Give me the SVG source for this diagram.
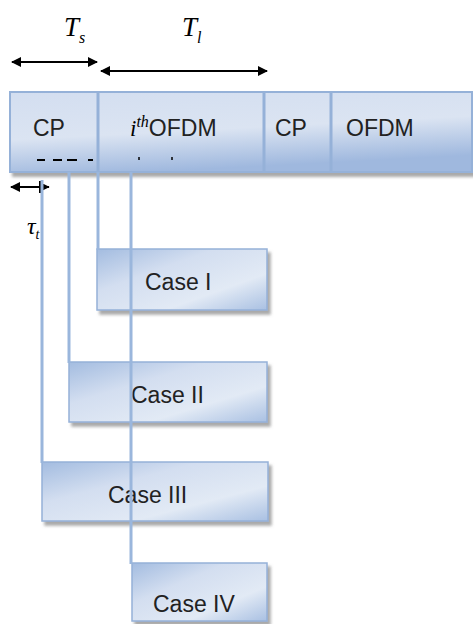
<svg xmlns="http://www.w3.org/2000/svg" width="473" height="624" viewBox="0 0 473 624">
<defs>
<linearGradient id="gBox" x1="0" y1="0" x2="1" y2="1">
<stop offset="0" stop-color="#a3bce0"/>
<stop offset="0.35" stop-color="#d3def0"/>
<stop offset="0.7" stop-color="#e2eaf5"/>
<stop offset="1" stop-color="#a9c0e2"/>
</linearGradient>
<linearGradient id="gBar" x1="0" y1="0" x2="0.3" y2="1">
<stop offset="0" stop-color="#d3def0"/>
<stop offset="0.55" stop-color="#dbe4f2"/>
<stop offset="1" stop-color="#9fb8de"/>
</linearGradient>
<filter id="sh" x="-10%" y="-10%" width="130%" height="140%">
<feDropShadow dx="3" dy="4" stdDeviation="1.5" flood-color="#707070" flood-opacity="0.6"/>
</filter>
<marker id="ah" viewBox="0 0 10 10" refX="9" refY="5" markerWidth="10" markerHeight="10" markerUnits="userSpaceOnUse" orient="auto-start-reverse">
<path d="M0,0 L10,5 L0,10 z" fill="#000"/>
</marker>
<marker id="ahs" viewBox="0 0 10 10" refX="9" refY="5" markerWidth="7" markerHeight="7" markerUnits="userSpaceOnUse" orient="auto-start-reverse">
<path d="M0,0 L10,5 L0,10 z" fill="#000"/>
</marker>
</defs>
<style>
.box{fill:url(#gBox);stroke:#95b1d8;stroke-width:1.5;filter:url(#sh)}
.div{stroke:#95b1d8;stroke-width:3}
.lbl{font-family:"Liberation Sans",Arial,sans-serif;font-size:23px;fill:#222}
.math{font-family:"Liberation Serif","Times New Roman",serif;font-style:italic;fill:#000}
.vl{stroke:#9ab6dc;stroke-width:3;fill:none}
.arr{stroke:#000;stroke-width:2;fill:none}
</style>

<g id="timing-arrows">
<line class="arr" x1="12" y1="62" x2="97" y2="62" marker-start="url(#ah)" marker-end="url(#ah)"/>
<line class="arr" x1="101" y1="71" x2="267" y2="71" marker-start="url(#ah)" marker-end="url(#ah)"/>
<text class="math" x="64" y="36" font-size="27">T<tspan font-size="16" dy="7">s</tspan></text>
<text class="math" x="182" y="36" font-size="27">T<tspan font-size="16" dy="7">l</tspan></text>
</g>

<g id="symbol-bar">
<rect x="10" y="92" width="462" height="80" fill="url(#gBar)" stroke="#95b1d8" stroke-width="2" filter="url(#sh)"/>
<line class="div" x1="98" y1="93" x2="98" y2="171"/>
<line class="div" x1="264" y1="93" x2="264" y2="171"/>
<line class="div" x1="331" y1="93" x2="331" y2="171"/>
<text class="lbl" x="33" y="136">CP</text>
<text x="130" y="136"><tspan class="math" font-size="23">i</tspan><tspan class="math" font-size="16" dy="-9">th</tspan><tspan class="lbl" dy="9">OFDM</tspan></text>
<text class="lbl" x="275" y="136">CP</text>
<text class="lbl" x="346" y="136">OFDM</text>
<g stroke="#000" stroke-width="2">
<line x1="37" y1="160" x2="45" y2="160"/>
<line x1="53" y1="160" x2="62" y2="160"/>
<line x1="67" y1="160" x2="77" y2="160"/>
<line x1="88" y1="160" x2="93" y2="160"/>
<line x1="139" y1="157" x2="139" y2="160" stroke-width="1.5"/>
<line x1="172" y1="157" x2="172" y2="160" stroke-width="1.5"/>
</g>
</g>

<g id="tau">
<line class="arr" x1="11" y1="187" x2="49" y2="187" marker-start="url(#ah)" marker-end="url(#ahs)"/>
<line x1="40" y1="181" x2="40" y2="193" stroke="#000" stroke-width="2"/>
<text class="math" x="27" y="234" font-size="24">τ<tspan font-size="14" dy="5">t</tspan></text>
</g>

<g id="case1">
<rect class="box" x="97" y="249" width="170" height="61"/>
<text class="lbl" x="145" y="290">Case I</text>
</g>
<g id="case2">
<rect class="box" x="69" y="362" width="198" height="60"/>
<text class="lbl" x="131" y="403">Case II</text>
</g>
<g id="case3">
<rect class="box" x="42" y="462" width="226" height="59"/>
<text class="lbl" x="108" y="503">Case III</text>
</g>
<g id="case4">
<rect class="box" x="132" y="563" width="135" height="58"/>
<text class="lbl" x="153" y="612">Case IV</text>
</g>

<g id="connectors">
<line class="vl" x1="98" y1="172" x2="98" y2="250"/>
<line class="vl" x1="69" y1="172" x2="69" y2="363"/>
<line class="vl" x1="42" y1="180" x2="42" y2="463"/>
<line class="vl" x1="131" y1="172" x2="131" y2="564"/>
</g>
</svg>
